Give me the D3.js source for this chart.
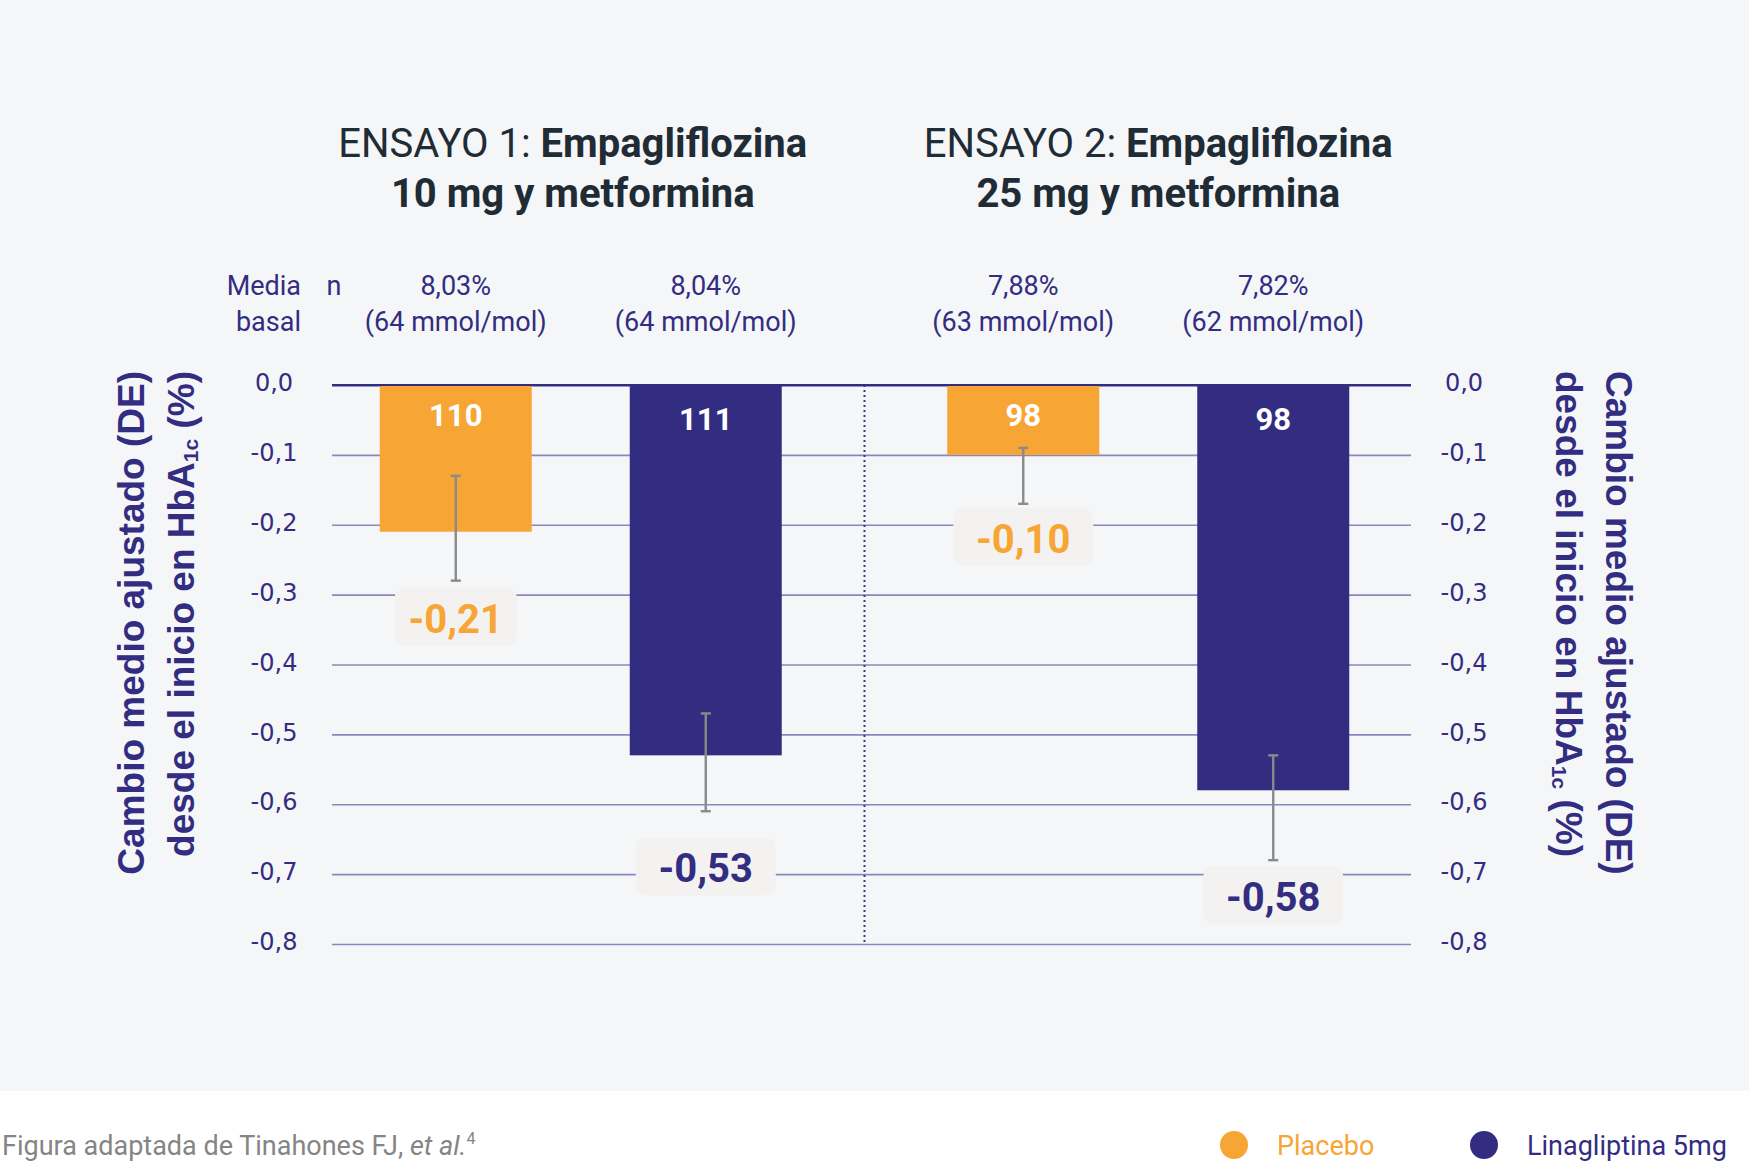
<!DOCTYPE html>
<html><head><meta charset="utf-8">
<script src="https://cdn.jsdelivr.net/npm/d3@7"></script>
<style>
html,body{margin:0;padding:0;background:#f5f6f8;}
svg{display:block;}
</style></head>
<body>
<svg id="chart" width="1749" height="1165"></svg>
<script>
// ---------- DATA ----------
const groups = ["ENSAYO 1", "ENSAYO 2"];
const titleLight = ["ENSAYO 1: ", "ENSAYO 2: "];
const titleBold1 = ["Empagliflozina", "Empagliflozina"];
const titleBold2 = ["10 mg y metformina", "25 mg y metformina"];
const series = ["Placebo", "Linagliptina 5mg"];
const placeboValues = [-0.21, -0.10];
const linaValues = [-0.53, -0.58];
const placeboN = [110, 98];
const linaN = [111, 98];
const placeboErrTop = [-0.13, -0.09];
const placeboErrBottom = [-0.28, -0.17];
const linaErrTop = [-0.47, -0.53];
const linaErrBottom = [-0.61, -0.68];
const placeboBaseline = ["8,03%", "7,88%"];
const placeboMmol = ["(64 mmol/mol)", "(63 mmol/mol)"];
const linaBaseline = ["8,04%", "7,82%"];
const linaMmol = ["(64 mmol/mol)", "(62 mmol/mol)"];
const yTicks = [0, -0.1, -0.2, -0.3, -0.4, -0.5, -0.6, -0.7, -0.8];
const yTickLabels = ["0,0", "-0,1", "-0,2", "-0,3", "-0,4", "-0,5", "-0,6", "-0,7", "-0,8"];
const valueLabels = ["-0,21", "-0,53", "-0,10", "-0,58"];
const axisTitle1 = "Cambio medio ajustado (DE)";
const axisTitle2a = "desde el inicio en HbA";
const axisTitle2sub = "1c";
const axisTitle2b = " (%)";
const sourceText = "Figura adaptada de Tinahones FJ, ";
const sourceItalic = "et al.";
const sourceSup = "4";

// ---------- STYLE ----------
const ORANGE = "#f7a535", NAVY = "#322d81", DARK = "#1f2b35";
const GRID = "#8a86bf", ERR = "#8a8a8a", BOX = "#f3f2f0";
const colors = {"Placebo": ORANGE, "Linagliptina 5mg": NAVY};
const labelGap = [7, 26, 4, 6];

const bars = [];
groups.forEach((g, i) => {
  bars.push({group: g, gi: i, series: "Placebo", value: placeboValues[i], n: placeboN[i],
    top: placeboErrTop[i], bottom: placeboErrBottom[i], base: placeboBaseline[i], mmol: placeboMmol[i]});
  bars.push({group: g, gi: i, series: "Linagliptina 5mg", value: linaValues[i], n: linaN[i],
    top: linaErrTop[i], bottom: linaErrBottom[i], base: linaBaseline[i], mmol: linaMmol[i]});
});
bars.forEach((d, i) => { d.label = valueLabels[i]; d.gap = labelGap[i]; });

const svg = d3.select("#chart");
const W = 1749, H = 1165;
svg.append("rect").attr("width", W).attr("height", H).attr("fill", "#f5f6f8");
svg.append("rect").attr("x", 0).attr("y", 1091).attr("width", W).attr("height", H - 1091).attr("fill", "#ffffff");

const plotLeft = 332, plotRight = 1411;
const y = d3.scaleLinear().domain([0, -0.8]).range([385, 944]);
const x0 = d3.scaleBand().domain(groups).range([297, 1432]);
const x1 = d3.scaleBand().domain(series).range([0, x0.bandwidth()]).paddingInner(0.392).paddingOuter(0.331);
const cx = d => x0(d.group) + x1(d.series) + x1.bandwidth() / 2;

// gridlines
const gridG = svg.append("g").attr("transform", `translate(${plotLeft},0)`)
  .call(d3.axisLeft(y).tickValues(yTicks).tickSize(-(plotRight - plotLeft)).tickFormat(""));
gridG.select(".domain").remove();
gridG.selectAll(".tick line").attr("stroke", GRID).attr("stroke-width", 1.6);
gridG.selectAll(".tick").filter(d => d === 0).select("line").attr("stroke", NAVY).attr("stroke-width", 2.2);

// tick labels left & right
const leftAx = svg.append("g").attr("transform", "translate(274,0)")
  .call(d3.axisLeft(y).tickValues(yTicks).tickSize(0).tickPadding(0).tickFormat((d, i) => yTickLabels[i]));
const rightAx = svg.append("g").attr("transform", "translate(1464,0)")
  .call(d3.axisRight(y).tickValues(yTicks).tickSize(0).tickPadding(0).tickFormat((d, i) => yTickLabels[i]));
[leftAx, rightAx].forEach(ax => {
  ax.select(".domain").remove();
  ax.selectAll("text").attr("text-anchor", "middle").attr("x", 0).attr("dy", "0.32em")
    .attr("y", -2).attr("fill", NAVY).attr("font-family", "DejaVu Sans").attr("font-size", 24);
});

// divider
const divX = x0("ENSAYO 2");
svg.append("line").attr("x1", divX).attr("x2", divX).attr("y1", y(0)).attr("y2", y(-0.8))
  .attr("stroke", "#3d3888").attr("stroke-width", 2).attr("stroke-dasharray", "2,3");

// bars
svg.selectAll("rect.bar").data(bars).enter().append("rect").attr("class", "bar")
  .attr("x", d => x0(d.group) + x1(d.series)).attr("width", x1.bandwidth())
  .attr("y", y(0)).attr("height", d => y(d.value) - y(0)).attr("fill", d => colors[d.series]);
// redraw zero line on top
svg.append("line").attr("x1", plotLeft).attr("x2", plotRight).attr("y1", y(0)).attr("y2", y(0))
  .attr("stroke", NAVY).attr("stroke-width", 2.2);

// n labels
svg.selectAll("text.n").data(bars).enter().append("text").attr("class", "n")
  .attr("x", cx).attr("y", d => d.series === "Placebo" ? 426 : 430)
  .attr("text-anchor", "middle").attr("fill", "#fff").attr("font-family", "Roboto")
  .attr("font-weight", 700).attr("font-size", 31).text(d => d.n);

// error bars
const eg = svg.selectAll("g.err").data(bars).enter().append("g").attr("class", "err");
eg.append("line").attr("x1", cx).attr("x2", cx).attr("y1", d => y(d.top)).attr("y2", d => y(d.bottom))
  .attr("stroke", ERR).attr("stroke-width", 2.4);
eg.append("line").attr("x1", d => cx(d) - 5).attr("x2", d => cx(d) + 5).attr("y1", d => y(d.top)).attr("y2", d => y(d.top))
  .attr("stroke", ERR).attr("stroke-width", 2.4);
eg.append("line").attr("x1", d => cx(d) - 5).attr("x2", d => cx(d) + 5).attr("y1", d => y(d.bottom)).attr("y2", d => y(d.bottom))
  .attr("stroke", ERR).attr("stroke-width", 2.4);

// value label boxes
const lg = svg.selectAll("g.vl").data(bars).enter().append("g").attr("class", "vl");
lg.append("rect").attr("x", d => cx(d) - (d.gi === 0 && d.series === "Placebo" ? 61 : 70))
  .attr("width", d => (d.gi === 0 && d.series === "Placebo" ? 122 : 140))
  .attr("y", d => y(d.bottom) + d.gap).attr("height", 58).attr("rx", 10).attr("fill", BOX);
lg.append("text").attr("x", cx).attr("y", d => y(d.bottom) + d.gap + 45)
  .attr("text-anchor", "middle").attr("fill", d => colors[d.series]).attr("font-family", "Roboto")
  .attr("font-weight", 700).attr("font-size", 40).text(d => d.label);

// header baseline rows
svg.selectAll("text.base").data(bars).enter().append("text").attr("class", "base")
  .attr("x", cx).attr("y", 295).attr("text-anchor", "middle").attr("fill", NAVY)
  .attr("font-family", "Roboto").attr("font-size", 27).text(d => d.base);
svg.selectAll("text.mmol").data(bars).enter().append("text").attr("class", "mmol")
  .attr("x", cx).attr("y", 331).attr("text-anchor", "middle").attr("fill", NAVY)
  .attr("font-family", "Roboto").attr("font-size", 27).text(d => d.mmol);
svg.append("text").attr("x", 301).attr("y", 295).attr("text-anchor", "end").attr("fill", NAVY)
  .attr("font-family", "Roboto").attr("font-size", 27).text("Media");
svg.append("text").attr("x", 301).attr("y", 331).attr("text-anchor", "end").attr("fill", NAVY)
  .attr("font-family", "Roboto").attr("font-size", 27).text("basal");
svg.append("text").attr("x", 334).attr("y", 295).attr("text-anchor", "middle").attr("fill", NAVY)
  .attr("font-family", "Roboto").attr("font-size", 27).text("n");

// titles
groups.forEach((g, i) => {
  const tx = x0(g) + x0.bandwidth() / 2 + (i === 0 ? -8 : 10);
  const t1 = svg.append("text").attr("x", tx).attr("y", 157).attr("text-anchor", "middle")
    .attr("fill", DARK).attr("font-family", "Roboto").attr("font-size", 40);
  t1.append("tspan").attr("font-weight", 400).text(titleLight[i]);
  t1.append("tspan").attr("font-weight", 700).text(titleBold1[i]);
  svg.append("text").attr("x", tx).attr("y", 207).attr("text-anchor", "middle")
    .attr("fill", DARK).attr("font-family", "Roboto").attr("font-size", 40).attr("font-weight", 700)
    .text(titleBold2[i]);
});

// axis titles
function axisTitle(tx, rot, anchor, text, sub, tail) {
  const t = svg.append("text").attr("transform", `translate(${tx},371) rotate(${rot})`)
    .attr("text-anchor", anchor).attr("fill", NAVY).attr("font-family", "Liberation Sans")
    .attr("font-weight", 700).attr("font-size", 37);
  t.append("tspan").text(text);
  if (sub) {
    t.append("tspan").attr("font-size", 21).attr("dy", 4).text(sub);
    t.append("tspan").attr("dy", -4).text(tail);
  }
}
axisTitle(143.5, -90, "end", axisTitle1);
axisTitle(193.5, -90, "end", axisTitle2a, axisTitle2sub, axisTitle2b);
axisTitle(1605.5, 90, "start", axisTitle1);
axisTitle(1555.5, 90, "start", axisTitle2a, axisTitle2sub, axisTitle2b);

// footer
const src = svg.append("text").attr("x", 2).attr("y", 1155).attr("fill", "#858585")
  .attr("font-family", "Roboto").attr("font-size", 27);
src.append("tspan").text(sourceText);
src.append("tspan").attr("font-style", "italic").text(sourceItalic);
src.append("tspan").attr("font-size", 16).attr("dy", -11).text(sourceSup);

// legend
const legX = [1234, 1484];
series.forEach((s, i) => {
  svg.append("circle").attr("cx", legX[i]).attr("cy", 1145).attr("r", 14).attr("fill", colors[s]);
  svg.append("text").attr("x", legX[i] + 43).attr("y", 1155).attr("fill", colors[s])
    .attr("font-family", "Roboto").attr("font-size", 27).text(s);
});
</script>
</body></html>
